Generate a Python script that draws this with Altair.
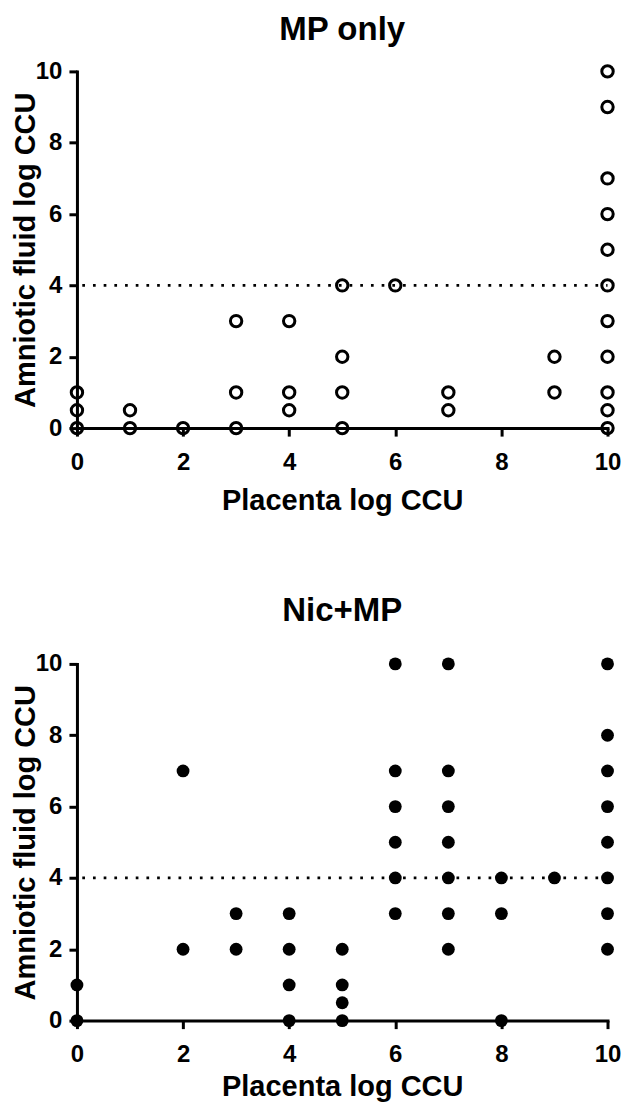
import altair as alt
import pandas as pd

# ---- data ----
mp_x = [0, 0, 0, 1, 1, 2, 3, 3, 3, 4, 4, 4, 5, 5, 5, 5, 6, 7, 7, 9, 9,
        10, 10, 10, 10, 10, 10, 10, 10, 10, 10, 10]
mp_y = [0, 0.5, 1, 0, 0.5, 0, 0, 1, 3, 0.5, 1, 3, 0, 1, 2, 4, 4, 0.5, 1, 1, 2,
        0, 0.5, 1, 2, 3, 4, 5, 6, 7, 9, 10]

nic_x = [0, 0, 2, 2, 3, 3, 4, 4, 4, 4, 5, 5, 5, 5,
         6, 6, 6, 6, 6, 6, 7, 7, 7, 7, 7, 7, 7, 8, 8, 8, 9,
         10, 10, 10, 10, 10, 10, 10, 10]
nic_y = [0, 1, 2, 7, 2, 3, 0, 1, 2, 3, 0, 0.5, 1, 2,
         3, 4, 5, 6, 7, 10, 2, 3, 4, 5, 6, 7, 10, 0, 3, 4, 4,
         2, 3, 4, 5, 6, 7, 8, 10]

tick_values = [0, 2, 4, 6, 8, 10]
threshold = [4]
titles = ["MP only", "Nic+MP"]
x_title = "Placenta log CCU"
y_title = "Amniotic fluid log CCU"

FONT = "Liberation Sans, Arial, sans-serif"
W, H = 531, 357


def panel(title, xs, ys, filled, title_offset, x_title_y):
    df = pd.DataFrame({"x": xs, "y": ys})
    xs_ = alt.Scale(domain=[0, 10], nice=False, zero=False)
    ys_ = alt.Scale(domain=[0, 10], nice=False, zero=False)
    xaxis = alt.Axis(values=tick_values, title=x_title, labelFlush=False,
                     labelOverlap=False, labelBaseline="alphabetic",
                     labelPadding=33, titleBaseline="alphabetic", titleY=x_title_y)
    yaxis = alt.Axis(values=tick_values, title=y_title, labelFlush=False,
                     labelOverlap=False, labelPadding=7,
                     titleBaseline="alphabetic", titleX=-42)
    rule = alt.Chart(pd.DataFrame({"y": threshold})).mark_rule(
        color="black", strokeWidth=2.7, strokeDash=[2.7, 8], strokeDashOffset=1.35
    ).encode(y=alt.Y("y:Q", scale=ys_, axis=yaxis))
    if filled:
        pts = alt.Chart(df).mark_point(shape="circle", filled=True, size=165,
                                       color="black", opacity=1, strokeWidth=0)
    else:
        pts = alt.Chart(df).mark_point(shape="circle", filled=False, size=130,
                                       color="black", opacity=1, strokeWidth=3)
    pts = pts.encode(x=alt.X("x:Q", scale=xs_, axis=xaxis),
                     y=alt.Y("y:Q", scale=ys_, axis=yaxis))
    return alt.layer(rule, pts).properties(
        width=W, height=H,
        title=alt.TitleParams(title, fontSize=33, font=FONT, fontWeight="bold",
                              anchor="middle", frame="group", baseline="alphabetic",
                              offset=title_offset, color="black"),
    )


top = panel(titles[0], mp_x, mp_y, False, -13.2, 81)
bottom = panel(titles[1], nic_x, nic_y, True, -2, 75)

chart = alt.vconcat(top, bottom, spacing=80).properties(
    padding={"left": 4, "top": 5, "right": 0.5, "bottom": 1}
).configure_axis(
    domainColor="black", domainWidth=3, domainCap="square",
    tickColor="black", tickWidth=3, tickSize=8, grid=False,
    labelFont=FONT, labelFontSize=24, labelFontWeight="bold", labelColor="black",
    titleFont=FONT, titleFontSize=29, titleFontWeight="bold", titleColor="black",
).configure_view(strokeOpacity=0)

chart.save("out.html", embed_options={"renderer": "svg", "actions": False})
